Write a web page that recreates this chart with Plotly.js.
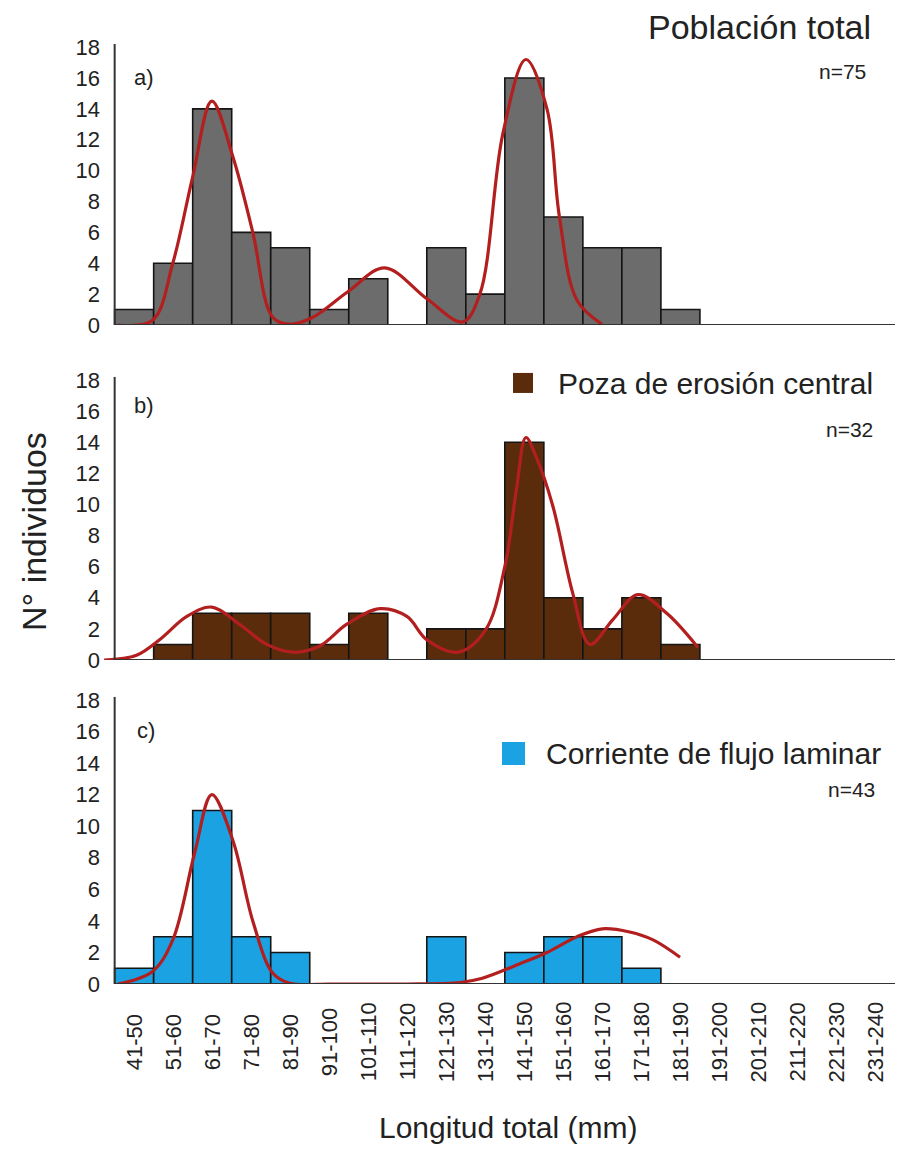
<!DOCTYPE html>
<html>
<head>
<meta charset="utf-8">
<script src="https://cdn.plot.ly/plotly-3.0.1.min.js"></script>
<style>html,body{margin:0;padding:0;background:#fff;}#chart{width:899px;height:1150px;}</style>
</head>
<body>
<div id="chart"></div>
<script>
// Size classes (mm)
const categories = ["41-50","51-60","61-70","71-80","81-90","91-100","101-110","111-120","121-130","131-140",
  "141-150","151-160","161-170","171-180","181-190","191-200","201-210","211-220","221-230","231-240"];

// Bar counts per panel
const countsTotal   = [1,4,14,6,5,1,3,0,5,2,16,7,5,5,1,0,0,0,0,0];
const countsPoza    = [0,1,3,3,3,1,3,0,2,2,14,4,2,4,1,0,0,0,0,0];
const countsLaminar = [1,3,11,3,2,0,0,0,3,0,2,3,3,1,0,0,0,0,0,0];

// Fitted red curves (x in class-index units, y in counts)
const curveTotalX = [-0.42,0.47,0.99,1.5,1.99,2.53,3.04,3.55,3.99,4.58,5.5,6.42,7.5,8.42,8.86,9.45,10.04,10.58,10.9,11.35,11.99];
const curveTotalY = [0,0.3,4,9.6,14.5,10.9,6,0.5,0.05,0.5,2.2,3.7,1.7,0.2,2,12.4,17.2,14,7,1.6,0.05];

const curvePozaX = [-0.77,0.06,0.65,1.35,1.99,2.7,3.4,4.07,4.76,5.45,6.3,6.99,7.5,8.3,9.0,9.5,9.8,10.04,10.31,10.73,11.24,11.68,12.27,12.91,13.65,14.45];
const curvePozaY = [0,0.3,1.3,2.8,3.4,2.3,1.0,0.5,0.9,2.3,3.3,2.8,1.3,0.5,1.9,6.0,11.0,14.3,13.0,9.9,4.3,1.0,2.6,4.2,3.0,0.8];

const curveLamX = [-0.42,0.47,0.99,1.55,1.99,2.53,3.04,3.55,3.99,5,6,7,8.35,8.9,9.9,10.58,11.35,12.0,12.7,13.3,13.99];
const curveLamY = [0,0.8,2.8,8.3,12,9.1,4,0.7,0.05,0,0,0,0.1,0.35,1.3,2.0,3.0,3.5,3.3,2.8,1.7];

const yTicks = [0,2,4,6,8,10,12,14,16,18];

const FONT = "Liberation Sans, Arial, sans-serif";
const TXT = "#222222";
const idx = categories.map((_, i) => i);
const nz = a => a.map(v => v === 0 ? null : v);

function bars(counts, color, xa, ya) {
  return {type: "bar", x: idx, y: nz(counts), width: 1, xaxis: xa, yaxis: ya,
    marker: {color: color, line: {color: "#151515", width: 1.6}}, showlegend: false, hoverinfo: "skip"};
}
function curve(xs, ys, xa, ya) {
  return {type: "scatter", mode: "lines", x: xs, y: ys, xaxis: xa, yaxis: ya,
    line: {color: "#b31f1f", width: 3.2, shape: "spline", smoothing: 1}, showlegend: false, hoverinfo: "skip"};
}

const data = [
  bars(countsTotal, "#6c6c6c", "x", "y"),
  curve(curveTotalX, curveTotalY, "x", "y"),
  bars(countsPoza, "#5a2c0b", "x2", "y2"),
  curve(curvePozaX, curvePozaY, "x2", "y2"),
  bars(countsLaminar, "#1ba2e3", "x3", "y3"),
  curve(curveLamX, curveLamY, "x3", "y3")
];

const xr = [-0.85, 19.5];
function xax(anchor) {
  return {range: xr, anchor: anchor, showticklabels: false, showgrid: false, zeroline: false, showline: false, ticks: "", fixedrange: true};
}
function yax(domain, anchor) {
  return {domain: domain, anchor: anchor, range: [0, 18.2], tickvals: yTicks, ticktext: yTicks.map(String),
    tickfont: {size: 22, color: TXT, family: FONT}, showgrid: false, zeroline: false, showline: false, ticks: "", fixedrange: true};
}

const axisColor = "#333333";
const shapes = [];
[["x","y"],["x2","y2"],["x3","y3"]].forEach(([xa, ya]) => {
  shapes.push({type: "line", xref: xa, yref: ya, x0: -0.5, x1: 19.5, y0: 0, y1: 0, line: {color: axisColor, width: 2}});
  shapes.push({type: "line", xref: xa, yref: ya, x0: -0.5, x1: -0.5, y0: 0, y1: 18.2, line: {color: axisColor, width: 2}});
});
// legend squares
shapes.push({type: "rect", xref: "paper", yref: "paper", x0: 0.5189, x1: 0.5441, y0: 0.6583, y1: 0.6757, fillcolor: "#5a2c0b", line: {width: 0}});
shapes.push({type: "rect", xref: "paper", yref: "paper", x0: 0.505, x1: 0.534, y0: 0.3348, y1: 0.3548, fillcolor: "#1ba2e3", line: {width: 0}});

function ann(text, x, y, size, xanchor, extra) {
  return Object.assign({text: text, x: x, y: y, xref: "paper", yref: "paper", xanchor: xanchor, yanchor: "middle",
    showarrow: false, font: {size: size, color: TXT, family: FONT}}, extra || {});
}

const annotations = [
  ann("Población total", 0.9723, 0.9765, 34, "right"),
  ann("n=75", 0.966, 0.9374, 21, "right"),
  ann("a)", 0.039, 0.933, 22, "left"),
  ann("Poza de erosión central", 0.9748, 0.6661, 30, "right"),
  ann("n=32", 0.9748, 0.6261, 21, "right"),
  ann("b)", 0.039, 0.6478, 22, "left"),
  ann("Corriente de flujo laminar", 0.9849, 0.3452, 30, "right"),
  ann("n=43", 0.9773, 0.3139, 21, "right"),
  ann("c)", 0.0428, 0.3652, 22, "left"),
  ann("N° individuos", -0.0844, 0.5383, 34, "center", {textangle: -90}),
  ann("Longitud total (mm)", 0.5126, 0.02, 30, "center")
];
categories.forEach((c, i) => {
  annotations.push({text: c, x: i, xref: "x3", y: 0.0939, yref: "paper", textangle: -90,
    xanchor: "center", yanchor: "middle", showarrow: false, font: {size: 22, color: TXT, family: FONT}});
});

const layout = {
  width: 899, height: 1150,
  margin: {l: 101, r: 4, t: 0, b: 0},
  paper_bgcolor: "#ffffff", plot_bgcolor: "rgba(0,0,0,0)",
  font: {family: FONT, color: TXT},
  bargap: 0,
  xaxis: xax("y"), xaxis2: xax("y2"), xaxis3: xax("y3"),
  yaxis: yax([0.7174, 0.9617], "x"),
  yaxis2: yax([0.4261, 0.6723], "x2"),
  yaxis3: yax([0.1443, 0.3941], "x3"),
  shapes: shapes,
  annotations: annotations
};

Plotly.newPlot("chart", data, layout, {staticPlot: true, displayModeBar: false});
</script>
</body>
</html>
